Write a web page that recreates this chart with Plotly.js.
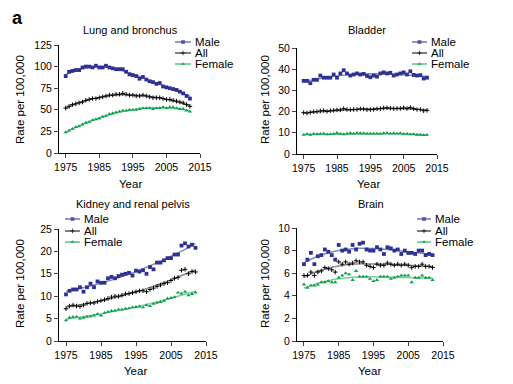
<!DOCTYPE html>
<html><head><meta charset="utf-8">
<script src="https://cdn.plot.ly/plotly-3.0.1.min.js"></script>
<style>html,body{margin:0;padding:0;background:#fff}#chart{width:513px;height:384px}</style>
</head><body><div id="chart"></div>
<script>
// Years 1975-2012
var years = [];
for (var yy = 1975; yy <= 2012; yy++) years.push(yy);

var lungMale   = [89,94,95,96,96,99,100,100,99,101,99,99,101,99,98,97,97,97,94,91,90,89,86,88,85,83,82,80,81,77,76,75,74,73,71,69,66,63];
var lungAll    = [52,54,56,57,58,59,61,62,63,63,64,65,66,67,67,68,68,69,68,67,67,66,66,67,66,65,64,64,64,63,62,62,61,60,59,58,56,54];
var lungFemale = [24,26,28,30,31,33,35,36,38,39,40,42,43,45,46,47,48,49,49,50,50,50,51,52,52,52,51,52,52,53,52,53,53,52,51,51,49,48];

var bladMale   = [34.5,34.5,33.4,35,35,37,36,36,36,37.5,36,38,39.5,38,37,37.5,38,37.5,37.8,36.8,36.2,37,36.5,38,38.5,38,38.3,37,37.5,38,38.5,37.5,39,37.3,37,37.2,35.6,36];
var bladAll    = [19.5,19.3,19.6,19.9,20,20.3,20.5,20.1,20.4,20.6,20.8,20.8,21.4,21,20.9,21,21,21.3,21.2,20.9,20.9,21,21.3,21.4,21.7,21.8,21.6,21.4,21.5,21.5,21.8,21.5,21.9,21.4,21,21,20.4,20.6];
var bladFemale = [9,9.4,9,9.5,9.4,9.5,9.6,9.3,9.4,9.5,9.9,9.5,9.3,9.6,9.8,9.6,9.9,9.8,9.8,9.6,9.6,9.6,9.6,9.6,9.8,9.9,9.6,9.8,9.6,9.8,9.5,9.5,9.3,9.4,9.1,9.1,8.9,9];

var kidMale    = [10.4,11.2,11.5,11.5,12,11,12,12.8,12,13.3,13,13,14,14.3,14,14.5,14.8,15,15.2,14.6,15.7,15.5,15.8,15,16.5,16,17.5,17.5,18,18.5,18.5,19.3,19.3,21.3,21.8,21.1,21.5,20.8];
var kidAll     = [7.2,7.8,8,7.8,7.7,8,8.4,8.5,8.5,8.8,9,9.2,9.5,9.8,10,10,10.2,10.5,10.6,10.8,11,11.2,11.2,11,11.5,11.8,12.2,12.5,12.8,13,13.5,14,14.2,15.8,16,15,15.5,15.4];
var kidFemale  = [4.6,5.2,5.4,5.4,5,5.2,5.4,5.5,5.7,6,5.7,6.3,6.5,6.7,6.8,7,7,7.2,7.3,7.5,7.6,7.7,7.5,8,7.8,8.3,8.5,8.7,9,9.5,9.6,9.8,10.8,10.6,11,10.2,10.5,10.8];

var brainMale   = [6.8,7.2,7.8,6.8,7.5,7.6,8.1,7.9,7.6,7.2,8.5,8.0,8.1,7.9,8.5,8.1,8.6,8.7,8.1,8.0,8.0,8.3,8.1,7.7,8.3,8.2,8.0,8.1,7.7,8.0,7.8,7.8,7.7,8.0,8.0,7.6,7.7,7.6];
var brainAll    = [5.8,5.8,6.1,5.8,6.1,6.2,6.5,6.4,6.3,6.1,7.0,6.8,7.0,6.8,6.9,7.1,7.0,7.0,6.7,6.6,6.5,6.8,6.7,6.7,6.9,6.8,6.7,6.8,6.7,6.8,6.7,6.5,6.6,6.6,6.8,6.6,6.6,6.5];
var brainFemale = [5.0,4.7,4.9,4.9,5.0,5.2,5.2,5.3,5.2,5.2,5.6,5.8,6.0,5.9,5.4,6.2,5.7,5.7,5.7,5.5,5.3,5.4,5.7,5.7,5.7,5.5,5.6,5.7,5.8,5.8,5.8,5.2,5.6,5.6,5.8,5.6,5.6,5.4];

var seriesNames = ['Male','All','Female'];
var panelTitles = ['Lung and bronchus','Bladder','Kidney and renal pelvis','Brain'];
var panelData = [
  [lungMale, lungAll, lungFemale],
  [bladMale, bladAll, bladFemale],
  [kidMale, kidAll, kidFemale],
  [brainMale, brainAll, brainFemale]
];
var fitDegree = [3, 3, 2, 3];
var yMax = [125, 50, 25, 10];
var yStep = [25, 10, 5, 2];

var colors = ['#2e3192', '#000000', '#0aa14a'];
var lineColors = ['rgba(80,82,165,0.7)', 'rgba(60,60,60,0.6)', 'rgba(40,170,90,0.6)'];
var symbols = ['square', 'cross-thin', 'triangle-up'];
var msizes = [3.8, 3.2, 3.8];

function polyfit(x, y, deg) {
  var n = deg + 1, xm = 0;
  for (var i = 0; i < x.length; i++) xm += x[i];
  xm /= x.length;
  var A = [], b = [];
  for (var r = 0; r < n; r++) { A.push(new Array(n).fill(0)); b.push(0); }
  for (var i = 0; i < x.length; i++) {
    var t = (x[i] - xm) / 10;
    for (var r = 0; r < n; r++) {
      for (var c = 0; c < n; c++) A[r][c] += Math.pow(t, r + c);
      b[r] += y[i] * Math.pow(t, r);
    }
  }
  for (var c = 0; c < n; c++) {
    var p = c;
    for (var r = c + 1; r < n; r++) if (Math.abs(A[r][c]) > Math.abs(A[p][c])) p = r;
    var tmp = A[c]; A[c] = A[p]; A[p] = tmp; var tb = b[c]; b[c] = b[p]; b[p] = tb;
    for (var r = c + 1; r < n; r++) {
      var f = A[r][c] / A[c][c];
      for (var k = c; k < n; k++) A[r][k] -= f * A[c][k];
      b[r] -= f * b[c];
    }
  }
  var coef = new Array(n).fill(0);
  for (var r = n - 1; r >= 0; r--) {
    var s = b[r];
    for (var k = r + 1; k < n; k++) s -= A[r][k] * coef[k];
    coef[r] = s / A[r][r];
  }
  return function (xx) {
    var t = (xx - xm) / 10, v = 0;
    for (var r = 0; r < n; r++) v += coef[r] * Math.pow(t, r);
    return v;
  };
}

var W = 513, H = 384;
// plot areas in px: [left, right, top, bottom]
var boxes = [[59, 200, 45, 153], [297, 437, 48, 154], [59, 206, 229, 341], [297, 443, 228, 341]];
var font = "'Liberation Sans', Arial, sans-serif";
var traces = [];
var layout = {
  width: W, height: H, margin: {l: 0, r: 0, t: 0, b: 0},
  paper_bgcolor: '#fff', plot_bgcolor: 'rgba(0,0,0,0)', showlegend: false,
  font: {family: font, color: '#000', size: 10.5},
  annotations: [], shapes: []
};

var fineX = [];
for (var fx = 1975; fx <= 2012.001; fx += 0.25) fineX.push(fx);

for (var p = 0; p < 4; p++) {
  var sfx = p === 0 ? '' : String(p + 1);
  var bx = boxes[p];
  layout['xaxis' + sfx] = {
    domain: [bx[0] / W, bx[1] / W], range: [1973, 2015], anchor: 'y' + sfx,
    showline: true, linecolor: '#000', linewidth: 1, ticks: 'outside', ticklen: 4, tickwidth: 1,
    tickvals: [1975, 1985, 1995, 2005, 2015], showgrid: false, zeroline: false,
    tickfont: {size: 10.5, family: font}
  };
  var tv = [];
  for (var v = 0; v <= yMax[p]; v += yStep[p]) tv.push(v);
  layout['yaxis' + sfx] = {
    domain: [1 - bx[3] / H, 1 - bx[2] / H], range: [0, yMax[p]], anchor: 'x' + sfx,
    showline: true, linecolor: '#000', linewidth: 1, ticks: 'outside', ticklen: 4, tickwidth: 1,
    tickvals: tv, showgrid: false, zeroline: false, tickfont: {size: 10.5, family: font}
  };
  for (var s = 0; s < 3; s++) {
    var ys = panelData[p][s];
    var f = polyfit(years, ys, fitDegree[p]);
    traces.push({
      x: fineX, y: fineX.map(f), xaxis: 'x' + sfx, yaxis: 'y' + sfx, mode: 'lines',
      line: {color: lineColors[s], width: 1.5}, hoverinfo: 'skip', name: seriesNames[s] + ' fit'
    });
    traces.push({
      x: years, y: ys, xaxis: 'x' + sfx, yaxis: 'y' + sfx, mode: 'markers', name: seriesNames[s],
      marker: {symbol: symbols[s], size: msizes[s], color: colors[s], line: {color: colors[s], width: s === 1 ? 1 : 0}}
    });
  }
}

// overlay axis for legend symbols (pixel space)
layout.xaxis5 = {domain: [0, 1], range: [0, W], visible: false, fixedrange: true, anchor: 'y5'};
layout.yaxis5 = {domain: [0, 1], range: [H, 0], visible: false, fixedrange: true, anchor: 'x5'};

// legends: [lineStartX, lineEndX, textX, yMale, yAll, yFemale]
var legendPos = [[175, 191, 193, 42, 53, 64], [412, 427, 429, 42, 53, 64], [65, 80, 82, 219, 231, 242], [417, 431, 433, 219, 231, 242]];
for (var p = 0; p < 4; p++) {
  var lp = legendPos[p];
  for (var s = 0; s < 3; s++) {
    var yv = lp[3 + s];
    traces.push({
      x: [lp[0], (lp[0] + lp[1]) / 2, lp[1]], y: [yv, yv, yv], xaxis: 'x5', yaxis: 'y5',
      mode: 'lines+markers', hoverinfo: 'skip', line: {color: colors[s], width: 1},
      marker: {symbol: symbols[s], size: [0, msizes[s], 0], color: colors[s], line: {color: colors[s], width: s === 1 ? 1 : 0}}
    });
    layout.annotations.push({
      xref: 'paper', yref: 'paper', x: lp[2] / W, y: 1 - yv / H, xanchor: 'left', yanchor: 'middle',
      text: seriesNames[s], showarrow: false, font: {size: 11.5, family: font, color: '#000'}
    });
  }
}

function ann(text, px, py, opts) {
  var a = {xref: 'paper', yref: 'paper', x: px / W, y: 1 - py / H, xanchor: 'center', yanchor: 'middle',
    text: text, showarrow: false, font: {size: 11, family: font, color: '#000'}};
  for (var k in opts) a[k] = opts[k];
  layout.annotations.push(a);
}
// panel titles
ann(panelTitles[0], 130, 30, {});
ann(panelTitles[1], 367, 30, {});
ann(panelTitles[2], 133, 204, {});
ann(panelTitles[3], 371, 204, {});
// x titles
ann('Year', 130, 184, {font: {size: 11.5, family: font, color: '#000'}});
ann('Year', 368, 184, {font: {size: 11.5, family: font, color: '#000'}});
ann('Year', 135, 371, {font: {size: 11.5, family: font, color: '#000'}});
ann('Year', 369, 371, {font: {size: 11.5, family: font, color: '#000'}});
// y titles
ann('Rate per 100,000', 20, 100, {textangle: -90, font: {size: 11.5, family: font, color: '#000'}});
ann('Rate per 100,000', 265, 100, {textangle: -90, font: {size: 11.5, family: font, color: '#000'}});
ann('Rate per 100,000', 20, 284, {textangle: -90, font: {size: 11.5, family: font, color: '#000'}});
ann('Rate per 100,000', 265, 284, {textangle: -90, font: {size: 11.5, family: font, color: '#000'}});
// panel label
ann('<b>a</b>', 17, 18, {font: {size: 18, family: font, color: '#000'}});

Plotly.newPlot('chart', traces, layout, {staticPlot: true, displayModeBar: false});
</script>
</body></html>
